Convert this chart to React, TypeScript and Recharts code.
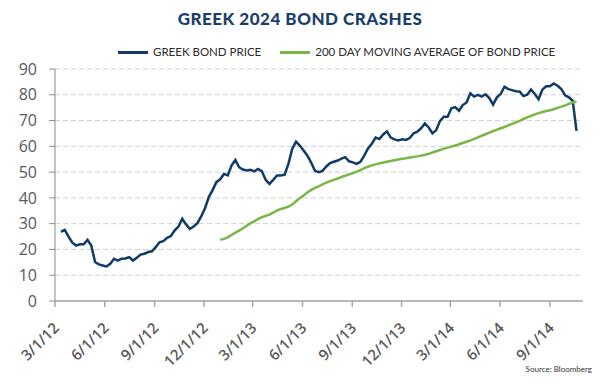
import React from 'react';
import { LineChart, Line, XAxis, YAxis, CartesianGrid } from 'recharts';

// weekly closes, first week starting 3/12/12
const START_DATE = '3/12/12';
const END_DATE = '11/1/14';

const bondPrice = [
  26.8, 27.6, 25, 22.6, 21.5, 22, 22, 23.7, 21.5, 15.1,
  14.2, 13.8, 13.4, 14.4, 16.4, 15.7, 16.4, 16.5, 17, 15.7,
  16.8, 18, 18.3, 19, 19.3, 20.9, 22.8, 23.2, 24.5, 25.2,
  27.4, 28.9, 31.9, 29.7, 28, 28.9, 30.2, 32.8, 36, 40.3,
  43, 46.1, 47.2, 49.3, 48.7, 52.5, 54.7, 51.9, 51, 50.6,
  50.9, 50.3, 51.2, 50.3, 47, 45.4, 47, 48.7, 48.7, 49,
  53.2, 59, 61.8, 60.3, 58.4, 56.4, 53.7, 50.5, 50, 50.5,
  52.2, 53.5, 54, 54.5, 55.2, 55.8, 54.2, 53.8, 53.2, 54,
  56.4, 59.2, 61, 63.4, 62.8, 64.6, 65.8, 63.4, 62.7, 62.3,
  62.7, 62.5, 63.2, 65, 65.7, 67, 68.9, 67.3, 65, 66.3,
  69.9, 71.5, 71.5, 74.8, 75.2, 73.8, 76, 77, 80.6, 79.3,
  80, 79.3, 80.2, 78.7, 76.2, 79, 80.3, 83.1, 82.2, 81.8,
  81.4, 81.3, 79.5, 80, 82, 80.3, 78.3, 82, 83.3, 83.3,
  84.4, 83.5, 82.2, 79.8, 79, 77.7, 66,
];

// 200 day average only exists from week 42 on
const MA_FIRST_WEEK = 42;
const movingAverage = [
  23.7, 24.1, 24.7, 25.6, 26.5, 27.3, 28.2, 29.2, 30.2, 30.9,
  31.8, 32.5, 33, 33.5, 34.3, 35.1, 35.7, 36.1, 36.6, 37.4,
  38.7, 39.9, 40.9, 42.1, 43.1, 43.9, 44.5, 45.2, 45.9, 46.5,
  47, 47.5, 48.1, 48.6, 49.1, 49.6, 50.2, 50.8, 51.5, 52.1,
  52.6, 53, 53.4, 53.7, 54, 54.3, 54.6, 54.9, 55.2, 55.4,
  55.7, 55.9, 56.1, 56.4, 56.7, 57.1, 57.6, 58.1, 58.6, 59.1,
  59.5, 59.9, 60.3, 60.8, 61.3, 61.8, 62.3, 62.9, 63.5, 64.1,
  64.7, 65.3, 65.9, 66.5, 67, 67.5, 68.1, 68.7, 69.3, 69.9,
  70.6, 71.2, 71.8, 72.4, 72.9, 73.3, 73.7, 74, 74.4, 74.9,
  75.4, 75.9, 76.5, 77, 77.4,
];

const xTickLabels = ['3/1/12', '6/1/12', '9/1/12', '12/1/12', '3/1/13', '6/1/13', '9/1/13', '12/1/13', '3/1/14', '6/1/14', '9/1/14'];
const yTicks = [0, 10, 20, 30, 40, 50, 60, 70, 80, 90];

const series = [
  { key: 'price', name: 'GREEK BOND PRICE', color: '#0f3b66' },
  { key: 'ma', name: '200 DAY MOVING AVERAGE OF BOND PRICE', color: '#79b547' },
];

const DAY = 86400000;
const toTime = (s: string) => {
  const [m, d, y] = s.split('/').map(Number);
  return Date.UTC(2000 + y, m - 1, d);
};
const fmtDate = (t: number) => {
  const d = new Date(t);
  return `${d.getUTCMonth() + 1}/${d.getUTCDate()}/${d.getUTCFullYear() % 100}`;
};

const data = bondPrice.map((price, i) => ({
  t: toTime(START_DATE) + i * 7 * DAY,
  price,
  ma: i >= MA_FIRST_WEEK ? movingAverage[i - MA_FIRST_WEEK] : null,
}));

const DateTick = ({ x, y, payload }: any) => (
  <text
    x={x + 5}
    y={y + 20}
    transform={`rotate(-45, ${x + 5}, ${y + 20})`}
    textAnchor="end"
    fontSize={15}
    fontWeight={600}
    fill="#595959"
    fontFamily="'Open Sans', sans-serif"
  >
    {fmtDate(payload.value)}
  </text>
);

const App = () => {
  return (
    <div style={{ position: 'absolute', left: 0, top: 0, width: 600, height: 385, background: '#fff', fontFamily: 'Lato, sans-serif' }}>
      <LineChart width={600} height={385} data={data} margin={{ top: 69, right: 17, bottom: 24, left: 0 }}>
        <CartesianGrid vertical={false} strokeDasharray="5 3" stroke="#cfcfcf" />
        <XAxis
          dataKey="t"
          type="number"
          domain={[toTime(xTickLabels[0]), toTime(END_DATE)]}
          ticks={xTickLabels.map(toTime)}
          interval={0}
          height={60}
          tick={<DateTick />}
          tickSize={6}
          stroke="#a6a6a6"
          strokeWidth={1.5}
        />
        <YAxis
          domain={[0, 90]}
          ticks={yTicks}
          interval={0}
          width={55}
          tickSize={6}
          tickMargin={12}
          stroke="#8c8c8c"
          tick={{ fontSize: 16, fill: '#595959', fontFamily: "'Open Sans', sans-serif" }}
        />
        {series.map((s) => (
          <Line
            key={s.key}
            dataKey={s.key}
            type="linear"
            stroke={s.color}
            strokeWidth={2.5}
            dot={false}
            isAnimationActive={false}
          />
        ))}
      </LineChart>

      <div style={{ position: 'absolute', top: 9, left: 0, width: 600, textAlign: 'center', fontSize: 17, fontWeight: 900, color: '#1b3f6b', letterSpacing: 0.5, lineHeight: '20px' }}>
        GREEK 2024 BOND CRASHES
      </div>

      <div style={{ position: 'absolute', top: 45, left: 118, display: 'flex', alignItems: 'center', fontSize: 11.5, color: '#2a2a2a', lineHeight: '14px' }}>
        {series.map((s, i) => (
          <div key={s.key} style={{ display: 'flex', alignItems: 'center', marginRight: i === 0 ? 19 : 0 }}>
            <span style={{ display: 'inline-block', width: 30, height: 3, background: s.color, marginRight: 5 }} />
            <span>{s.name}</span>
          </div>
        ))}
      </div>

      <div style={{ position: 'absolute', right: 8, top: 364, fontSize: 8, color: '#333' }}>Source: Bloomberg</div>
    </div>
  );
};

export default App;
